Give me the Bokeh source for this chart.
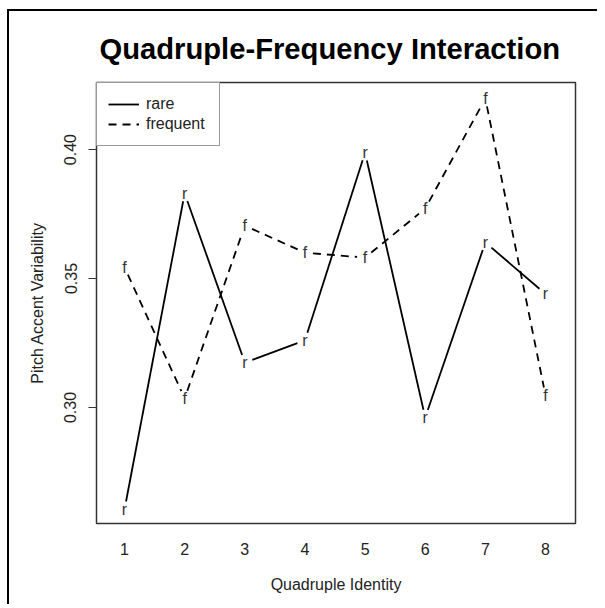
import numpy as np
from bokeh.plotting import figure
from bokeh.models import Range1d, FixedTicker, Legend, LegendItem, ColumnDataSource
from bokeh.core.properties import value
from bokeh.embed import file_html
from bokeh.resources import INLINE

# ---- data ----
quadruple = [1, 2, 3, 4, 5, 6, 7, 8]
rare = [0.2605, 0.383, 0.3174, 0.326, 0.3988, 0.2961, 0.364, 0.344]
frequent = [0.3543, 0.3035, 0.3705, 0.360, 0.3581, 0.3771, 0.4198, 0.3047]
y_ticks = [0.30, 0.35, 0.40]
series_names = ["rare", "frequent"]
series_chars = ["r", "f"]
title_text = "Quadruple-Frequency Interaction"
x_label = "Quadruple Identity"
y_label = "Pitch Accent Variability"

# ---- layout ----
W, H = 590, 595
FL, FT, FW, FH = 87, 71, 479, 441
X0, X1 = 0.534, 8.499
Y0, Y1 = 0.255, 0.426
FONT = "Liberation Sans"

p = figure(width=W, height=H, x_range=Range1d(X0, X1), y_range=Range1d(Y0, Y1),
           output_backend="svg", toolbar_location=None,
           min_border_left=FL, min_border_top=FT,
           min_border_right=W - FL - FW, min_border_bottom=H - FT - FH)
p.styles = {"border-top": "2px solid black", "border-left": "2px solid black",
            "margin-left": "7px", "margin-top": "9px"}

p.xgrid.visible = False
p.ygrid.visible = False
p.outline_line_color = "#333333"
p.outline_line_width = 1.5
p.background_fill_color = "white"
p.border_fill_color = "white"

p.title.text = title_text
p.title.text_font = FONT
p.title.text_font_size = "29.2px"
p.title.text_font_style = "bold"
p.title.text_color = "black"
p.title.align = "left"
p.title.offset = 3
p.title.standoff = 35

xa = p.xaxis[0]
xa.ticker = FixedTicker(ticks=quadruple)
xa.major_tick_out = 0
xa.major_tick_in = 0
xa.minor_tick_out = 0
xa.minor_tick_in = 0
xa.axis_line_color = None
xa.major_label_text_font = FONT
xa.major_label_text_font_size = "16px"
xa.major_label_text_color = "#222222"
xa.major_label_standoff = 19
xa.axis_label = x_label
xa.axis_label_text_font = FONT
xa.axis_label_text_font_size = "16px"
xa.axis_label_text_font_style = "normal"
xa.axis_label_text_color = "#222222"
xa.axis_label_standoff = 18

ya = p.yaxis[0]
ya.ticker = FixedTicker(ticks=y_ticks)
ya.major_tick_out = 8
ya.major_tick_in = 0
ya.minor_tick_out = 0
ya.minor_tick_in = 0
ya.major_tick_line_color = "#333333"
ya.axis_line_color = None
ya.major_label_orientation = "vertical"
ya.major_label_overrides = {t: f"{t:.2f}" for t in y_ticks}
ya.major_label_text_font = FONT
ya.major_label_text_font_size = "16px"
ya.major_label_text_color = "#222222"
ya.major_label_standoff = 12
ya.axis_label = y_label
ya.axis_label_text_font = FONT
ya.axis_label_text_font_size = "16px"
ya.axis_label_text_font_style = "normal"
ya.axis_label_text_color = "#222222"
ya.axis_label_standoff = 16

sx = FW / (X1 - X0)
sy = FH / (Y1 - Y0)


def gapped(xs, ys, gap=8.0):
    px = (np.asarray(xs, float) - X0) * sx
    py = (np.asarray(ys, float) - Y0) * sy
    x0s, y0s, x1s, y1s = [], [], [], []
    for i in range(len(px) - 1):
        dx, dy = px[i + 1] - px[i], py[i + 1] - py[i]
        L = np.hypot(dx, dy)
        t = gap / L
        x0s.append((px[i] + t * dx) / sx + X0)
        y0s.append((py[i] + t * dy) / sy + Y0)
        x1s.append((px[i + 1] - t * dx) / sx + X0)
        y1s.append((py[i + 1] - t * dy) / sy + Y0)
    return dict(x0=x0s, y0=y0s, x1=x1s, y1=y1s)


items = []
for name, ch, vals, dash in [(series_names[0], series_chars[0], rare, "solid"),
                             (series_names[1], series_chars[1], frequent, "8 6")]:
    seg = p.segment("x0", "y0", "x1", "y1", source=ColumnDataSource(gapped(quadruple, vals)),
                    line_color="black", line_width=1.8, line_dash=dash)
    p.text(x=quadruple, y=vals, text=[ch] * len(vals),
           text_font=value(FONT), text_font_size="16px", text_color="#333333",
           text_align="center", text_baseline="middle")
    items.append(LegendItem(label=name, renderers=[seg]))

legend = Legend(items=items, location="top_left", margin=0, padding=11, spacing=-1,
                glyph_width=31, glyph_height=20, label_height=20, label_width=62,
                label_standoff=7, label_text_font=FONT, label_text_font_size="16px",
                label_text_color="#222222", border_line_color="#333333",
                border_line_width=1.5, background_fill_alpha=1.0)
p.add_layout(legend)

open("out.html", "w").write(file_html(p, INLINE))
